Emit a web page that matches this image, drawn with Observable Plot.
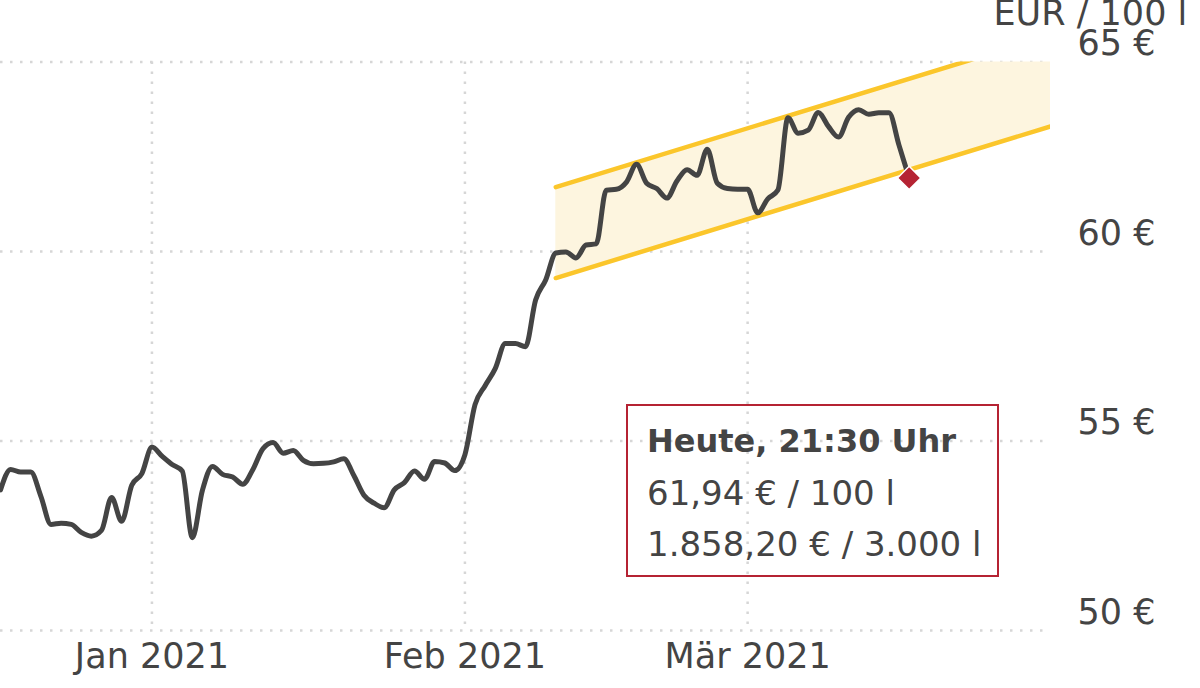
<!DOCTYPE html>
<html>
<head>
<meta charset="utf-8">
<script src="https://cdn.jsdelivr.net/npm/d3@7"></script>
<script src="https://cdn.jsdelivr.net/npm/@observablehq/plot@0.6"></script>
<style>
  body { margin: 0; background: #fff; font-family: "DejaVu Sans", Verdana, sans-serif; }
  #wrap { position: relative; width: 1200px; height: 688px; overflow: hidden; }
  #tip { position: absolute; left: 626px; top: 404px; width: 373px; height: 173px;
         border: 2px solid #b52333; box-sizing: border-box; padding: 10px 0 0 19px; color: #444; }
  #tip div { height: 51.7px; line-height: 51.7px; white-space: nowrap; font-size: 34px; }
  #tip div.b { font-weight: bold; font-size: 32px; }
</style>
</head>
<body>
<div id="wrap">
  <div id="chart"></div>
  <div id="tip">
    <div class="b" id="tipTitle"></div>
    <div id="tipLine1"></div>
    <div id="tipLine2"></div>
  </div>
</div>
<script>
// ---- data ----
const firstDay = "2020-12-17";            // first daily price
const prices = [
  53.71, 54.25, 54.18, 54.18, 53.54, 52.80, 52.83, 52.80, 52.59, 52.49,
  52.64, 53.51, 52.88, 53.83, 54.14, 54.84, 54.60, 54.38, 54.21, 52.45,
  53.70, 54.33, 54.12, 54.05, 53.86, 54.25, 54.80, 54.96, 54.68, 54.75,
  54.49, 54.40, 54.41, 54.45, 54.53, 54.09, 53.57, 53.36, 53.24, 53.71,
  53.90, 54.21, 53.99, 54.46, 54.42, 54.22, 54.64, 55.96, 56.46, 56.91,
  57.57, 57.57, 57.49, 58.72, 59.25, 59.96, 59.99, 59.83, 60.17, 60.20,
  61.62, 61.64, 61.83, 62.30, 61.80, 61.66, 61.41, 61.86, 62.16, 62.01,
  62.70, 61.80, 61.66, 61.64, 61.64, 61.02, 61.39, 61.62, 63.53, 63.12,
  63.20, 63.67, 63.30, 63.02, 63.54, 63.74, 63.62, 63.66, 63.66, 62.80,
  61.94
];
const channelDates = ["2021-02-10", "2021-03-31"];
const channelLower = [59.30, 63.30];
const channelUpper = [61.70, 65.70];
const xDomain = ["2020-12-17", "2021-03-31"];
const monthTicks = ["2021-01-01", "2021-02-01", "2021-03-01"];
const monthLabels = ["Jan 2021", "Feb 2021", "Mär 2021"];
const yTicks = [50, 55, 60, 65];
const unitLabel = "EUR / 100 l";
const tipTitle = "Heute, 21:30 Uhr";
const tipLine1 = "61,94 € / 100 l";
const tipLine2 = "1.858,20 € / 3.000 l";

// ---- build tables ----
const parse = d3.utcParse("%Y-%m-%d");
const start = parse(firstDay);
const series = prices.map((p, i) => ({date: d3.utcDay.offset(start, i), price: p}));
const channel = channelDates.map((d, i) => ({date: parse(d), lower: channelLower[i], upper: channelUpper[i]}));
const ticksX = monthTicks.map(parse);
const labelByTime = new Map(ticksX.map((d, i) => [+d, monthLabels[i]]));

const grid = {stroke: "#d6d6d6", strokeWidth: 2.5, strokeDasharray: "2.5,7.5"};
const yellow = "#fbc62b";

const chart = Plot.plot({
  width: 1200,
  height: 688,
  marginLeft: 0,
  marginRight: 150,
  marginTop: 61.5,
  marginBottom: 58,
  style: {fontFamily: '"DejaVu Sans", Verdana, sans-serif', fontSize: "35px", color: "#444", background: "white", overflow: "visible"},
  x: {type: "utc", domain: xDomain.map(parse)},
  y: {domain: [50, 65]},
  marks: [
    Plot.ruleY(yTicks, grid),
    Plot.ruleX(ticksX, grid),
    Plot.areaY(channel, {x: "date", y1: "lower", y2: "upper", fill: "#fdf5df", clip: true}),
    Plot.lineY(channel, {x: "date", y: "upper", stroke: yellow, strokeWidth: 4.5, clip: true}),
    Plot.lineY(channel, {x: "date", y: "lower", stroke: yellow, strokeWidth: 4.5, clip: true}),
    Plot.lineY(series, {x: "date", y: "price", stroke: "#444", strokeWidth: 5, curve: "monotone-x",
      strokeLinejoin: "round", strokeLinecap: "round"}),
    Plot.dot(series.slice(-1), {x: "date", y: "price", symbol: "diamond2", r: 10.5,
      fill: "#b52333", stroke: "white", strokeWidth: 1.5}),
    Plot.axisX(ticksX, {tickSize: 0, tickPadding: 13, fontSize: 35, fill: "#444",
      tickFormat: d => labelByTime.get(+d)}),
    Plot.axisY(yTicks, {anchor: "right", tickSize: 0, tickPadding: 27, dy: -18, fontSize: 35,
      fill: "#444", tickFormat: d => `${d} €`}),
    Plot.text([unitLabel], {frameAnchor: "top-right", textAnchor: "start", dx: -57, dy: -61.5,
      fontSize: 35, fill: "#444", text: d => d})
  ]
});
document.getElementById("chart").appendChild(chart);
document.getElementById("tipTitle").textContent = tipTitle;
document.getElementById("tipLine1").textContent = tipLine1;
document.getElementById("tipLine2").textContent = tipLine2;
</script>
</body>
</html>
